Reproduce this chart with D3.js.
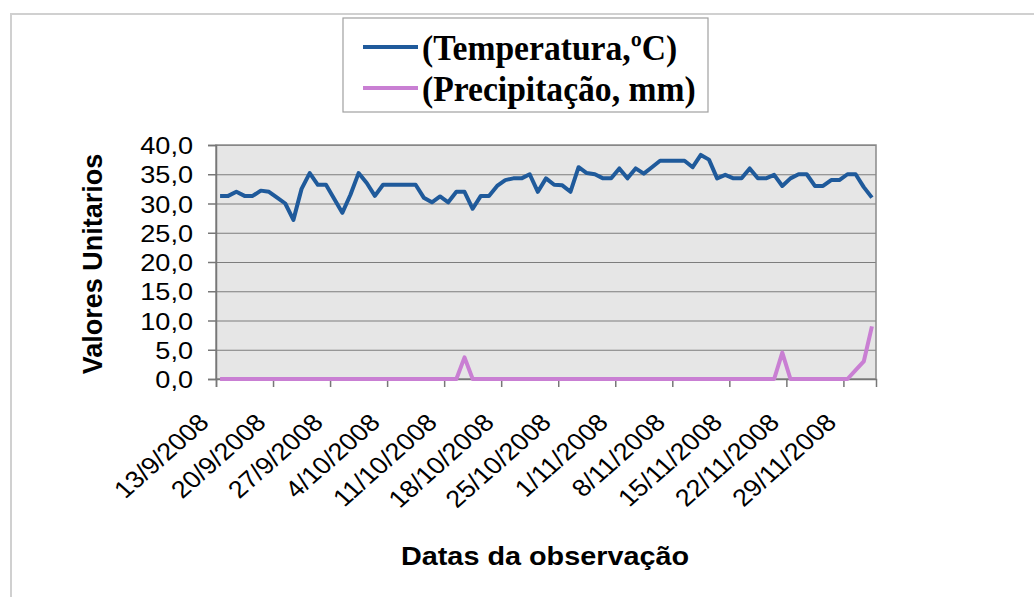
<!DOCTYPE html>
<html>
<head>
<meta charset="utf-8">
<script src="https://cdn.jsdelivr.net/npm/d3@7"></script>
<style>
  body { margin: 0; background: #fff; }
  text { font-family: "Liberation Sans", Arial, sans-serif; fill: #000; }
</style>
</head>
<body>
<svg id="chart" width="1034" height="597"></svg>
<script>
// one tick label every 7 days, starting 13/9/2008
const tickLabels = ["13/9/2008", "20/9/2008", "27/9/2008", "4/10/2008", "11/10/2008", "18/10/2008",
    "25/10/2008", "1/11/2008", "8/11/2008", "15/11/2008", "22/11/2008", "29/11/2008"];

// daily readings, 81 days
const temperature = [
    31.3, 31.3, 32, 31.3, 31.3, 32.2, 32, 31, 30, 27.2,
    32.5, 35.2, 33.2, 33.2, 30.8, 28.4, 31.5, 35.2, 33.5, 31.3,
    33.2, 33.2, 33.2, 33.2, 33.2, 31, 30.2, 31.2, 30.2, 32,
    32, 29.1, 31.3, 31.3, 33, 34, 34.3, 34.3, 35, 32,
    34.3, 33.2, 33.1, 32, 36.2, 35.2, 35, 34.3, 34.3, 36,
    34.3, 36, 35.1, 36.2, 37.3, 37.3, 37.3, 37.3, 36.2, 38.3,
    37.5, 34.3, 34.9, 34.3, 34.3, 36, 34.3, 34.3, 34.9, 33,
    34.3, 35, 35, 33, 33, 34, 34, 35, 35, 32.8,
    31
];
const precipitation = [
    0, 0, 0, 0, 0, 0, 0, 0, 0, 0,
    0, 0, 0, 0, 0, 0, 0, 0, 0, 0,
    0, 0, 0, 0, 0, 0, 0, 0, 0, 0,
    3.7, 0, 0, 0, 0, 0, 0, 0, 0, 0,
    0, 0, 0, 0, 0, 0, 0, 0, 0, 0,
    0, 0, 0, 0, 0, 0, 0, 0, 0, 0,
    0, 0, 0, 0, 0, 0, 0, 0, 0, 4.5,
    0, 0, 0, 0, 0, 0, 0, 0, 1.5, 3,
    9
];

const seriesNames = ["(Temperatura,ºC)", "(Precipitação, mm)"];
const seriesColors = ["#1f5a9b", "#c97fd3"];
const yTicks = [0, 5, 10, 15, 20, 25, 30, 35, 40];

const plot = { left: 216, right: 876, top: 145, bottom: 379 };
const sx = 1.13; // the scan is a bit wider than tall

const svg = d3.select("#chart");

// faint frame of the chart object (top and left only show)
svg.append("path")
    .attr("d", "M11,597V14H1034")
    .attr("fill", "none")
    .attr("stroke", "#d0d0d0")
    .attr("stroke-width", 2);

const x = d3.scaleLinear().domain([0, temperature.length]).range([plot.left, plot.right]);
const y = d3.scaleLinear().domain([0, 40]).range([plot.bottom, plot.top]);

svg.append("rect")
    .attr("x", plot.left)
    .attr("y", plot.top)
    .attr("width", plot.right - plot.left)
    .attr("height", plot.bottom - plot.top)
    .attr("fill", "#e6e6e6");

// gridlines
const grid = svg.append("g")
    .attr("transform", `translate(${plot.left},0)`)
    .call(d3.axisRight(y).tickValues(yTicks).tickSize(plot.right - plot.left).tickFormat(""));
grid.select(".domain").remove();
grid.selectAll("line").attr("stroke", "#7d7d7d").attr("stroke-width", 1.2);

svg.append("rect")
    .attr("x", plot.left)
    .attr("y", plot.top)
    .attr("width", plot.right - plot.left)
    .attr("height", plot.bottom - plot.top)
    .attr("fill", "none")
    .attr("stroke", "#8a8a8a")
    .attr("stroke-width", 1.5);

// y axis
const yAxis = svg.append("g")
    .attr("transform", `translate(${plot.left},0)`)
    .call(d3.axisLeft(y)
        .tickValues(yTicks)
        .tickSize(8)
        .tickFormat(d => d3.format(".1f")(d).replace(".", ",")));
yAxis.select(".domain").attr("stroke", "#777").attr("stroke-width", 1.5);
yAxis.selectAll("line").attr("stroke", "#777").attr("stroke-width", 1.5);
yAxis.selectAll("text")
    .attr("x", 0)
    .attr("dy", "0.36em")
    .attr("transform", `translate(-23,0) scale(${sx},1)`)
    .style("font-size", "24px");

// x axis
const xAxis = svg.append("g")
    .attr("transform", `translate(0,${plot.bottom})`)
    .call(d3.axisBottom(x)
        .tickValues(d3.range(0, temperature.length, 7))
        .tickSize(8)
        .tickFormat((d, i) => tickLabels[i]));
xAxis.select(".domain").attr("stroke", "#777").attr("stroke-width", 1.5);
xAxis.selectAll("line").attr("stroke", "#777").attr("stroke-width", 1.5);
xAxis.selectAll("text")
    .attr("x", 0)
    .attr("y", 0)
    .attr("dy", 0)
    .attr("text-anchor", "end")
    .attr("transform", `translate(-6,45) scale(${sx},1) rotate(-45)`)
    .style("font-size", "24px");

// lines
const line = d3.line()
    .x((d, i) => x(i + 0.5))
    .y(d => y(d));

[temperature, precipitation].forEach((series, k) => {
    svg.append("path")
        .datum(series)
        .attr("d", line)
        .attr("fill", "none")
        .attr("stroke", seriesColors[k])
        .attr("stroke-width", 4)
        .attr("stroke-linejoin", "round");
});

// axis titles
svg.append("text")
    .attr("transform", "translate(102,264) rotate(-90)")
    .attr("text-anchor", "middle")
    .style("font-size", "27px")
    .style("font-weight", "bold")
    .text("Valores Unitarios");

svg.append("text")
    .attr("transform", `translate(545,565) scale(${sx},1)`)
    .attr("text-anchor", "middle")
    .style("font-size", "25.5px")
    .style("font-weight", "bold")
    .text("Datas da observação");

// legend
const legend = svg.append("g");
legend.append("rect")
    .attr("x", 343)
    .attr("y", 18)
    .attr("width", 365)
    .attr("height", 94)
    .attr("fill", "#fff")
    .attr("stroke", "#a0a0a0")
    .attr("stroke-width", 1.2);

seriesNames.forEach((name, k) => {
    const row = legend.append("g").attr("transform", `translate(0,${k * 41})`);
    row.append("line")
        .attr("x1", 363).attr("x2", 418)
        .attr("y1", 47).attr("y2", 47)
        .attr("stroke", seriesColors[k])
        .attr("stroke-width", 4);
    row.append("text")
        .attr("transform", "translate(422,60) scale(0.96,1)")
        .style("font-family", "'Liberation Serif', 'Times New Roman', serif")
        .style("font-size", "35px")
        .style("font-weight", "bold")
        .text(name);
});
</script>
</body>
</html>
